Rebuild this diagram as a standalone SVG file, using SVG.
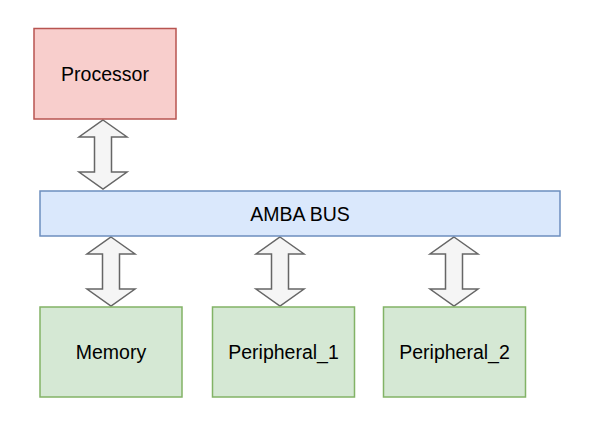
<svg xmlns="http://www.w3.org/2000/svg" width="589" height="426" viewBox="0 0 589 426">
<style>
.lbl{font-family:"Liberation Sans",Arial,sans-serif;font-size:19.5px;fill:#000;text-anchor:middle;dominant-baseline:central}
.red{fill:#f8cecc;stroke:#b85450;stroke-width:1.5}
.blue{fill:#dae8fc;stroke:#6c8ebf;stroke-width:1.5}
.green{fill:#d5e8d4;stroke:#82b366;stroke-width:1.5}
.arr{fill:#f5f5f5;stroke:#666;stroke-width:1.5;stroke-linejoin:miter}
</style>
<defs>
<path id="dblarrow" d="M0,0 L24,17 L8.5,17 L8.5,52 L24,52 L0,69 L-24,52 L-8.5,52 L-8.5,17 L-24,17 Z"/>
</defs>
<rect width="589" height="426" fill="#fff"/>
<g id="connectors">
<use href="#dblarrow" class="arr" transform="translate(103,120)"/>
<use href="#dblarrow" class="arr" transform="translate(111,237)"/>
<use href="#dblarrow" class="arr" transform="translate(280,237)"/>
<use href="#dblarrow" class="arr" transform="translate(454,237)"/>
</g>
<g id="processor">
<rect class="red" x="34" y="28.5" width="142" height="90.5"/>
<text class="lbl" x="105" y="74">Processor</text>
</g>
<g id="amba_bus">
<rect class="blue" x="40" y="191" width="520" height="45"/>
<text class="lbl" x="300" y="213.5">AMBA BUS</text>
</g>
<g id="memory">
<rect class="green" x="40" y="307" width="142" height="90"/>
<text class="lbl" x="111" y="352">Memory</text>
</g>
<g id="peripheral_1">
<rect class="green" x="212.5" y="307" width="142" height="90"/>
<text class="lbl" x="283.5" y="352">Peripheral_1</text>
</g>
<g id="peripheral_2">
<rect class="green" x="383.5" y="307" width="142" height="90"/>
<text class="lbl" x="454.5" y="352">Peripheral_2</text>
</g>
</svg>
